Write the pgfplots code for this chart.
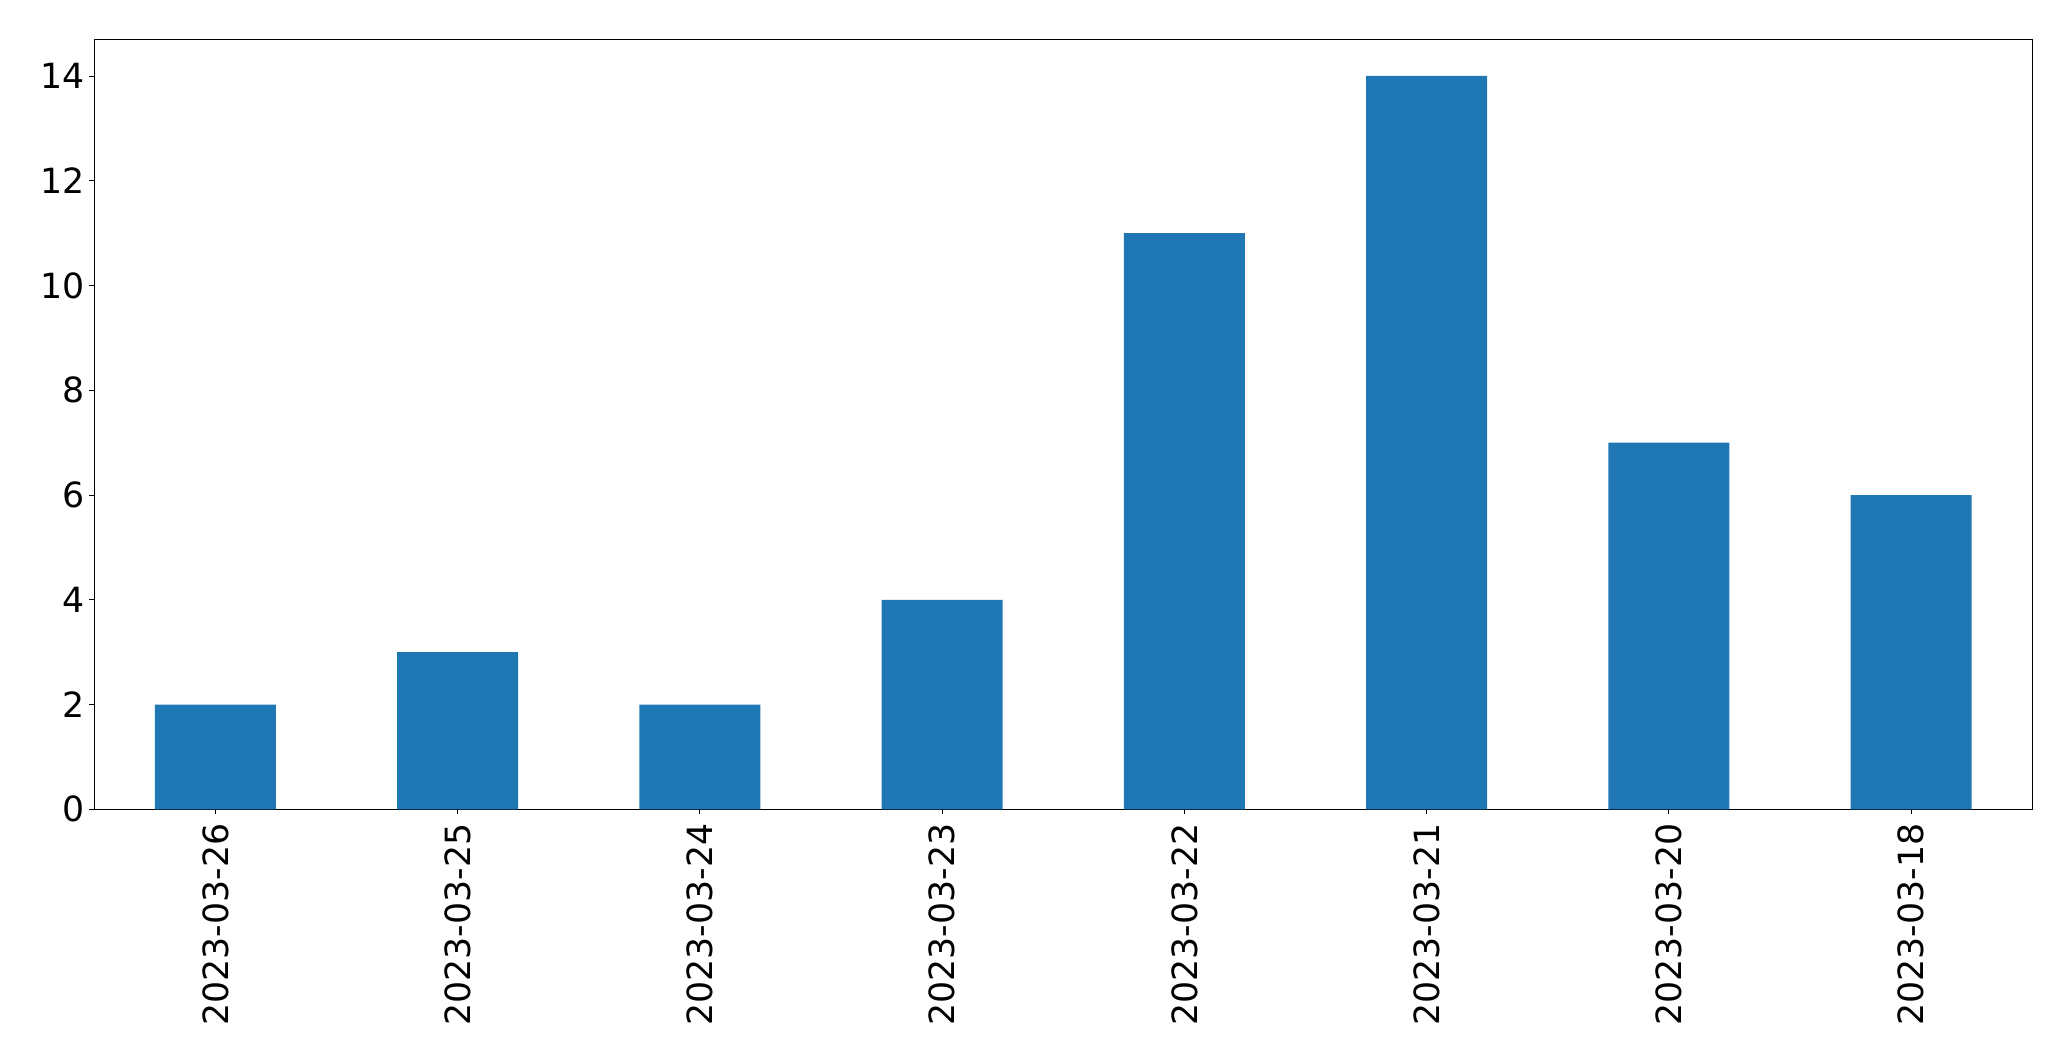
\documentclass[border=0pt]{standalone}
\usepackage{pgfplots}
\pgfplotsset{compat=1.18}
\usepackage{fontspec}
\setmainfont{DejaVu Sans}
\definecolor{tabblue}{HTML}{1F77B4}
\begin{document}
\begin{tikzpicture}
\useasboundingbox (-67.9bp,-181.2bp) rectangle (1423.2bp,582.7bp);
\begin{axis}[
  scale only axis,
  width=1395.4bp, height=554.4bp,
  xmin=-0.5, xmax=7.5, ymin=0, ymax=14.7,
  xtick={0,1,2,3,4,5,6,7},
  xticklabels={2023-03-26,2023-03-25,2023-03-24,2023-03-23,2023-03-22,2023-03-21,2023-03-20,2023-03-18},
  ytick={0,2,4,6,8,10,12,14},
  tick align=outside,
  major tick length=3.6bp,
  tick style={black, line width=0.6pt},
  axis line style={line width=0.6pt},
  xtick pos=bottom, ytick pos=left,
  /pgf/number format/assume math mode=true,
  tick label style={font=\fontsize{25bp}{30bp}\selectfont},
  xticklabel style={rotate=90, anchor=east, inner sep=0pt, xshift=-6.5bp},
  yticklabel style={inner sep=0pt, xshift=-3bp},
]
\addplot[ybar, bar width=0.5, fill=tabblue, draw=none, bar shift=0pt] coordinates {
  (0,2) (1,3) (2,2) (3,4) (4,11) (5,14) (6,7) (7,6)
};
\end{axis}
\end{tikzpicture}
\end{document}
